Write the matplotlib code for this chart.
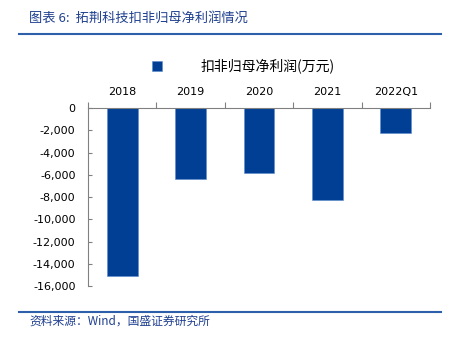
import numpy as np
import matplotlib.pyplot as plt
from matplotlib.lines import Line2D

plt.rcParams['font.family'] = ['Noto Sans CJK SC', 'DejaVu Sans']
plt.rcParams['axes.unicode_minus'] = False

periods = ['2018', '2019', '2020', '2021', '2022Q1']
profit = [-15070, -6380, -5810, -8300, -2280]  # 扣非归母净利润, 万元
yticks = list(range(0, -16001, -2000))

bar_color = '#003F94'
text_blue = '#1F3F8F'
rule_blue = '#2E5FAA'
axis_gray = '#808080'

fig = plt.figure(figsize=(4.6, 3.39), dpi=100)
ax = fig.add_axes([0.1913, 0.1563, 0.7435, 0.5251])

x = np.arange(len(periods))
ax.bar(x, profit, width=0.45, color=bar_color, edgecolor='#5B8BD0', linewidth=0.4,
       label='扣非归母净利润(万元)')

ax.set_xlim(-0.5, len(periods) - 0.5)
ax.set_ylim(-16000, 0)
ax.set_yticks(yticks)
ax.set_yticklabels([f'{v:,}' for v in yticks], fontsize=8, family='DejaVu Sans')
ax.tick_params(axis='y', direction='in', length=3, color=axis_gray, pad=9)

# category labels on top, tick marks at the category boundaries
ax.xaxis.tick_top()
ax.set_xticks(np.arange(len(periods) + 1) - 0.5)
ax.set_xticklabels([])
ax.set_xticks(x, minor=True)
ax.set_xticklabels(periods, minor=True, fontsize=8, family='DejaVu Sans')
ax.tick_params(axis='x', which='major', direction='out', length=4, color=axis_gray)
ax.tick_params(axis='x', which='minor', length=0, pad=8)

for side in ['right', 'bottom']:
    ax.spines[side].set_visible(False)
for side in ['left', 'top']:
    ax.spines[side].set_color(axis_gray)
    ax.spines[side].set_linewidth(0.8)

ax.legend(loc='center', bbox_to_anchor=(0.455, 1.236), frameon=False, fontsize=10,
          handlelength=0.72, handleheight=0.72, handletextpad=2.8)

# header and footer
fig.text(0.063, 0.947, '图表 6:  拓荆科技扣非归母净利润情况', fontsize=9.5,
         color=text_blue, ha='left', va='center')
fig.add_artist(Line2D([0.041, 0.959], [0.900, 0.900], color=rule_blue, lw=1.5))
fig.add_artist(Line2D([0.041, 0.959], [0.080, 0.080], color=rule_blue, lw=1.5))
fig.text(0.063, 0.053, '资料来源：Wind，国盛证券研究所', fontsize=8.5,
         color=text_blue, ha='left', va='center')

fig.savefig('out.png', dpi=100)
